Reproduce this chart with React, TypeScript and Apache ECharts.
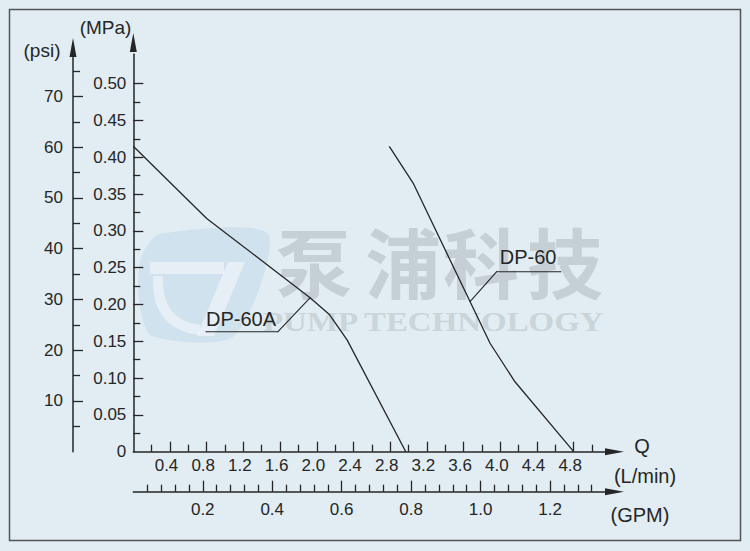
import React, { useEffect, useRef } from 'react';
import * as echarts from 'echarts';

// ---- curve data (flow in L/min, pressure in MPa) ----
const FLOW_60A = [0, 0.8, 1.93, 2.14, 2.33, 2.97];
const PRESS_60A = [0.415, 0.317, 0.209, 0.186, 0.152, 0];
const FLOW_60 = [2.79, 3.05, 3.67, 3.89, 4.16, 4.8];
const PRESS_60 = [0.415, 0.365, 0.204, 0.147, 0.095, 0];

// ---- leader lines for the curve names ----
const LEADER_60A_Q = [1.926, 1.577, 0.792];
const LEADER_60A_P = [0.209, 0.163, 0.163];
const LEADER_60_Q = [3.67, 3.961, 4.658];
const LEADER_60_P = [0.204, 0.2446, 0.2446];
const NAME_60A = 'DP-60A';
const NAME_60 = 'DP-60';

// ---- ticks / labels ----
const LMIN_MAJOR = [0.4, 0.8, 1.2, 1.6, 2.0, 2.4, 2.8, 3.2, 3.6, 4.0, 4.4, 4.8];
const LMIN_MINOR = [0.2, 0.6, 1.0, 1.4, 1.8, 2.2, 2.6, 3.0, 3.4, 3.8, 4.2, 4.6, 5.0];
const GPM_MAJOR = [0.2, 0.4, 0.6, 0.8, 1.0, 1.2];
const GPM_MINOR = [0.04, 0.08, 0.12, 0.16, 0.24, 0.28, 0.32, 0.36, 0.44, 0.48, 0.52, 0.56,
  0.64, 0.68, 0.72, 0.76, 0.84, 0.88, 0.92, 0.96, 1.04, 1.08, 1.12, 1.16, 1.24, 1.28, 1.32];
const MPA_LABELS = [0, 0.05, 0.1, 0.15, 0.2, 0.25, 0.3, 0.35, 0.4, 0.45, 0.5];
const MPA_MAJOR = [0.05, 0.1, 0.15, 0.2, 0.25, 0.3, 0.35, 0.4, 0.45, 0.5];
const MPA_MINOR = [0.025, 0.075, 0.125, 0.175, 0.225, 0.275, 0.325, 0.375, 0.425, 0.475];
const PSI_MAJOR = [10, 20, 30, 40, 50, 60, 70];
const PSI_MINOR = [5, 15, 25, 35, 45, 55, 65, 75];

const Q_MAX = 5.15;
const P_MAX = 0.54;
const LMIN_PER_GPM = 3.785;
const PSI_PER_MPA = 145.038;

const INK = '#262626';
const FONT = "'Liberation Sans', Arial, sans-serif";

const zip = (a: number[], b: number[]) => a.map((v, i) => [v, b[i]]);

function xAxisBase(max: number, offset: number) {
  return {
    type: 'value', position: 'bottom', min: 0, max, offset,
    axisLine: { onZero: false, show: false },
    splitLine: { show: false },
    axisLabel: { show: false },
    axisTick: { show: false },
  };
}
function yAxisBase(max: number, offset: number) {
  return {
    type: 'value', position: 'left', min: 0, max, offset,
    axisLine: { onZero: false, show: false },
    splitLine: { show: false },
    axisLabel: { show: false },
    axisTick: { show: false },
  };
}
const lineAxis = (offsetEnd: number) => ({
  show: true, onZero: false,
  symbol: ['none', 'triangle'], symbolSize: [7, 19], symbolOffset: [0, offsetEnd],
  lineStyle: { color: INK, width: 1.5 },
});
const ticks = (values: number[], length: number) => ({
  show: true, inside: true, length, customValues: values,
  lineStyle: { color: INK, width: 1.3 },
});

export default function App() {
  const ref = useRef<HTMLDivElement>(null);
  useEffect(() => {
    const chart = echarts.init(ref.current!, undefined, { renderer: 'svg' });
    const labelStyle = { color: INK, fontSize: 17, fontFamily: FONT };
    const option: any = {
      animation: false,
      backgroundColor: '#e1edf2',
      grid: { left: 133.3, top: 54.3, right: 144.2, bottom: 99.3, containLabel: false },
      xAxis: [
        {
          ...xAxisBase(Q_MAX, 0),
          axisLine: lineAxis(8.7),
          axisTick: ticks(LMIN_MAJOR, 10),
          axisLabel: { ...labelStyle, show: true, customValues: LMIN_MAJOR, margin: 5, padding: [0, 7, 0, 0], formatter: (v: number) => v.toFixed(1) },
        },
        { ...xAxisBase(Q_MAX, 0), axisTick: ticks(LMIN_MINOR, 7) },
        {
          ...xAxisBase(Q_MAX / LMIN_PER_GPM, 40),
          axisLine: lineAxis(8.7),
          axisTick: ticks(GPM_MAJOR, 11),
          axisLabel: { ...labelStyle, show: true, customValues: GPM_MAJOR, margin: 9, formatter: (v: number) => v.toFixed(1) },
        },
        { ...xAxisBase(Q_MAX / LMIN_PER_GPM, 40), axisTick: ticks(GPM_MINOR, 7) },
      ],
      yAxis: [
        {
          ...yAxisBase(P_MAX, 0),
          axisLine: lineAxis(11.8),
          axisTick: ticks(MPA_MAJOR, 10),
          axisLabel: { ...labelStyle, show: true, customValues: MPA_LABELS, margin: 7, padding: [6, 0, 0, 0], formatter: (v: number) => (v === 0 ? '0' : v.toFixed(2)) },
        },
        { ...yAxisBase(P_MAX, 0), axisTick: ticks(MPA_MINOR, 7) },
        {
          ...yAxisBase(P_MAX * PSI_PER_MPA, 60.3),
          axisLine: lineAxis(6.8),
          axisTick: ticks(PSI_MAJOR, 10),
          axisLabel: { ...labelStyle, show: true, customValues: PSI_MAJOR, margin: 10, formatter: (v: number) => String(v) },
        },
        { ...yAxisBase(P_MAX * PSI_PER_MPA, 60.3), axisTick: ticks(PSI_MINOR, 7) },
      ],
      series: [
        {
          type: 'line', name: NAME_60A, xAxisIndex: 0, yAxisIndex: 0, data: zip(FLOW_60A, PRESS_60A),
          showSymbol: false, silent: true, lineStyle: { color: INK, width: 1.3 }, z: 5,
        },
        {
          type: 'line', name: NAME_60, xAxisIndex: 0, yAxisIndex: 0, data: zip(FLOW_60, PRESS_60),
          showSymbol: false, silent: true, lineStyle: { color: INK, width: 1.3 }, z: 5,
        },
        {
          type: 'line', xAxisIndex: 0, yAxisIndex: 0, silent: true, z: 5,
          symbol: 'circle', symbolSize: 1, showSymbol: true, itemStyle: { color: INK },
          lineStyle: { color: INK, width: 1.1 },
          data: zip(LEADER_60A_Q, LEADER_60A_P).map((p, i) =>
            i === LEADER_60A_Q.length - 1
              ? { value: p, label: { show: true, formatter: NAME_60A, position: 'top', align: 'left', distance: 2, color: INK, fontSize: 20, fontFamily: FONT } }
              : { value: p }),
        },
        {
          type: 'line', xAxisIndex: 0, yAxisIndex: 0, silent: true, z: 5,
          symbol: 'circle', symbolSize: 1, showSymbol: true, itemStyle: { color: INK },
          lineStyle: { color: INK, width: 1.1 },
          data: zip(LEADER_60_Q, LEADER_60_P).map((p, i) =>
            i === 1
              ? { value: p, label: { show: true, formatter: NAME_60, position: 'top', align: 'left', distance: 4, offset: [3, 0], color: INK, fontSize: 20, fontFamily: FONT } }
              : { value: p }),
        },
      ],
      graphic: [
        // watermark logo
        { type: 'polygon', z: -5, shape: { points: [[160, 234], [268, 234], [234, 336], [152, 336], [139, 300], [141, 258]], smooth: 0.25 }, style: { fill: 'rgba(150,188,220,0.22)' } },
        { type: 'rect', z: -4, shape: { x: 150, y: 262, width: 74, height: 12 }, style: { fill: 'rgba(255,255,255,0.45)' } },
        { type: 'polygon', z: -4, shape: { points: [[228, 262], [245, 262], [214, 336], [197, 336]] }, style: { fill: 'rgba(255,255,255,0.45)' } },
        { type: 'bezierCurve', z: -4, shape: { x1: 158, y1: 276, cpx1: 156, cpy1: 325, x2: 200, y2: 330 }, style: { stroke: 'rgba(255,255,255,0.45)', lineWidth: 10, fill: 'none' } },
        // watermark text
        ...['泵', '浦', '科', '技'].map((ch, i) => ({
          type: 'text', z: -3, x: [314, 403, 481, 565][i], y: 260, silent: true,
          style: { text: ch, fill: '#c6cfd5', font: "bold 76px 'Noto Sans CJK SC', sans-serif", textAlign: 'center', textVerticalAlign: 'middle' },
        })),
        {
          type: 'text', z: -3, x: 263, y: 322, scaleX: 1.22, silent: true,
          style: { text: 'PUMP TECHNOLOGY', fill: '#cbd4d9', font: "bold 27px 'Liberation Serif', serif", textAlign: 'left', textVerticalAlign: 'middle' },
        },
        // unit labels
        { type: 'text', x: 105.5, y: 27, style: { text: '(MPa)', fill: INK, font: `19px ${FONT}`, textAlign: 'center', textVerticalAlign: 'middle' } },
        { type: 'text', x: 42, y: 50, style: { text: '(psi)', fill: INK, font: `19px ${FONT}`, textAlign: 'center', textVerticalAlign: 'middle' } },
        { type: 'text', x: 642, y: 446, style: { text: 'Q', fill: INK, font: `20px ${FONT}`, textAlign: 'center', textVerticalAlign: 'middle' } },
        { type: 'text', x: 645, y: 476, style: { text: '(L/min)', fill: INK, font: `20px ${FONT}`, textAlign: 'center', textVerticalAlign: 'middle' } },
        { type: 'text', x: 640, y: 515, style: { text: '(GPM)', fill: INK, font: `20px ${FONT}`, textAlign: 'center', textVerticalAlign: 'middle' } },
        // frame
        { type: 'rect', z: 10, shape: { x: 9.5, y: 9.5, width: 731, height: 531 }, style: { fill: 'none', stroke: '#555', lineWidth: 1.5 } },
      ],
    };
    chart.setOption(option);
    return () => chart.dispose();
  }, []);
  return <div ref={ref} style={{ position: 'fixed', left: 0, top: 0, width: 750, height: 551 }} />;
}
